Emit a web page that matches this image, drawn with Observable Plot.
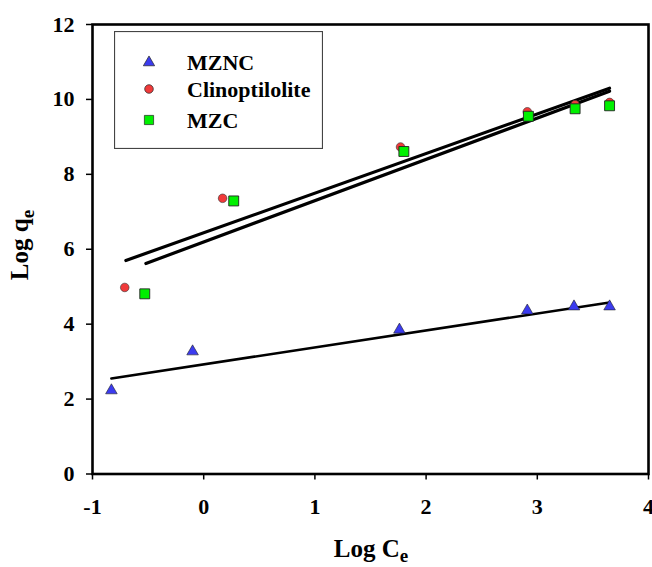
<!DOCTYPE html>
<html><head><meta charset="utf-8">
<script src="https://cdn.jsdelivr.net/npm/d3@7"></script>
<script src="https://cdn.jsdelivr.net/npm/@observablehq/plot@0.6"></script>
<style>
body{margin:0;background:#fff;}
#wrap{position:relative;width:652px;height:567px;}
#legend{position:absolute;left:114px;top:31px;}
</style></head><body><div id="wrap"></div>
<script>
// Series values (Log Ce, Log qe)
const mzncX  = [-0.83, -0.10, 1.76, 2.91, 3.33, 3.65];
const mzncY  = [2.23, 3.27, 3.85, 4.36, 4.47, 4.47];
const clinoX = [-0.71, 0.17, 1.77, 2.91, 3.34, 3.65];
const clinoY = [4.98, 7.36, 8.73, 9.67, 9.86, 9.92];
const mzcX   = [-0.53, 0.27, 1.80, 2.92, 3.34, 3.65];
const mzcY   = [4.81, 7.29, 8.61, 9.55, 9.75, 9.83];
// Fitted line end points
const fitMzncX  = [-0.83, 3.65];
const fitMzncY  = [2.55, 4.58];
const fitClinoX = [-0.70, 3.65];
const fitClinoY = [5.70, 10.30];
const fitMzcX   = [-0.52, 3.65];
const fitMzcY   = [5.62, 10.22];
// Ticks & labels
const xTicks = [-1, 0, 1, 2, 3, 4];
const yTicks = [0, 2, 4, 6, 8, 10, 12];
const seriesNames = ["MZNC", "Clinoptilolite", "MZC"];

const zip = (xs, ys) => xs.map((x, i) => ({x, y: ys[i]}));
const mznc = zip(mzncX, mzncY), clino = zip(clinoX, clinoY), mzc = zip(mzcX, mzcY);

const FONT = "'Liberation Serif', 'Times New Roman', serif";
const blue = "#3b3bef", red = "#f03a3a", green = "#00f000";

const plot = Plot.plot({
  width: 652, height: 567,
  marginTop: 24, marginRight: 4, marginBottom: 93.5, marginLeft: 92,
  style: {fontFamily: FONT, fontWeight: "bold", fontSize: "22px", color: "#000", background: "#fff"},
  x: {domain: [-1, 4]},
  y: {domain: [0, 12]},
  marks: [
    Plot.axisX({ticks: xTicks, tickSize: 6, tickPadding: 18, tickFormat: d => d < 0 ? "-" + Math.abs(d) : String(d), label: null, strokeWidth: 1.5}),
    Plot.axisY({ticks: yTicks, tickSize: 6, tickPadding: 12, label: null, strokeWidth: 1.5}),
    Plot.line(zip(fitMzncX, fitMzncY), {x: "x", y: "y", stroke: "#000", strokeWidth: 2.6}),
    Plot.line(zip(fitClinoX, fitClinoY), {x: "x", y: "y", stroke: "#000", strokeWidth: 3.2}),
    Plot.line(zip(fitMzcX, fitMzcY), {x: "x", y: "y", stroke: "#000", strokeWidth: 3.2}),
    Plot.dot(mznc, {x: "x", y: "y", symbol: "triangle", r: 4.3, fill: blue, stroke: "#222", strokeWidth: 0.6}),
    Plot.dot(clino, {x: "x", y: "y", symbol: "circle", r: 4.3, fill: red, stroke: "#333", strokeWidth: 0.6}),
    Plot.dot(mzc, {x: "x", y: "y", symbol: "square", r: 5.6, fill: green, stroke: "#222", strokeWidth: 0.9}),
    Plot.frame({stroke: "#000", strokeWidth: 2.6})
  ]
});
document.getElementById("wrap").appendChild(plot);

const svg = d3.select(plot);
// x axis title
const xt = svg.append("text").attr("x", 371).attr("y", 557).attr("text-anchor", "middle")
  .attr("font-family", FONT).attr("font-weight", "bold").attr("font-size", 25).attr("fill", "#000");
xt.append("tspan").text("Log C");
xt.append("tspan").attr("dy", 5).attr("font-size", 19).text("e");
// y axis title
const yt = svg.append("text").attr("transform", "translate(28,245) rotate(-90)").attr("text-anchor", "middle")
  .attr("font-family", FONT).attr("font-weight", "bold").attr("font-size", 25).attr("fill", "#000");
yt.append("tspan").text("Log q");
yt.append("tspan").attr("dy", 6).attr("font-size", 19).text("e");

// Legend overlay
const leg = d3.select("#wrap").append("svg").attr("id", "legend").attr("width", 209).attr("height", 118);
leg.append("rect").attr("x", 0.5).attr("y", 0.5).attr("width", 208).attr("height", 117)
  .attr("fill", "#fff").attr("stroke", "#444").attr("stroke-width", 1.2);
const legSyms = [
  {sym: d3.symbolTriangle, size: Math.PI * 4.2 * 4.2, fill: blue},
  {sym: d3.symbolCircle, size: Math.PI * 4.3 * 4.3, fill: red},
  {sym: d3.symbolSquare, size: Math.PI * 5.2 * 5.2, fill: green}
];
const rowsY = [31.5, 58, 89];
seriesNames.forEach((name, i) => {
  leg.append("path").attr("d", d3.symbol(legSyms[i].sym, legSyms[i].size)())
    .attr("transform", `translate(35,${rowsY[i]})`)
    .attr("fill", legSyms[i].fill).attr("stroke", "#222").attr("stroke-width", 0.7);
  leg.append("text").attr("x", 73).attr("y", rowsY[i] + 7.5)
    .attr("font-family", FONT).attr("font-weight", "bold").attr("font-size", 22).attr("fill", "#000")
    .text(name);
});
</script>
</body></html>
